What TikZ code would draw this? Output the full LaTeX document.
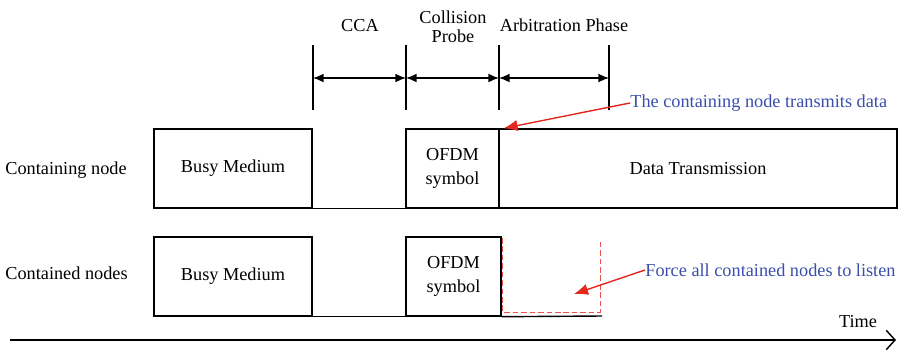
\documentclass[tikz,border=0pt]{standalone}
\usepackage{fontspec}
\setmainfont{Liberation Serif}
\usetikzlibrary{positioning}
\usetikzlibrary{arrows.meta}
\definecolor{notered}{RGB}{228,40,32}
\definecolor{noteblue}{RGB}{58,78,172}
\tikzset{
    slotbox/.style = {rectangle, draw=black, line width=0.8pt, minimum height=1.58cm, inner sep=0pt, align=center},
    labeln/.style = {text=black, inner sep=0pt},
    labelb/.style = {text=noteblue, inner sep=0pt},
    edgen/.style = {-, line width=0.8pt, black},
    edgea/.style = {{Latex[length=6pt,width=5pt]}-{Latex[length=6pt,width=5pt]}, line width=0.8pt, black},
    edger/.style = {-{Latex[length=8pt,width=6.5pt]}, line width=0.8pt, notered},
    edgerd/.style = {-, line width=0.55pt, notered!80, dash pattern=on 3.2pt off 1.6pt}, % listen window
    edget/.style = {-{Straight Barb[length=5pt,width=11pt]}, line width=0.8pt, black}, % time axis
    every picture/.style={font issue=\fontsize{10.4}{12.5}},
    font issue/.style={execute at begin picture={#1\selectfont}}
}

\begin{document}
\begin{tikzpicture}[x=0.02cm,y=-0.02cm]
  \useasboundingbox (0,0) rectangle (900,349);

  % row labels
  \node[labeln, anchor=west] (rowa) at (5,170) {Containing node};
  \node[labeln, anchor=west] (rowb) at (5,273) {Contained nodes};

  % containing node
  \node[slotbox, minimum width=3.16cm] (busya) at (233,168.5) {Busy Medium};
  \node[slotbox, minimum width=1.86cm] (ofdma) at (452.5,168.5) {OFDM\\[1.5pt]symbol};
  \node[slotbox, minimum width=7.96cm] (data) at (698,168.5) {Data Transmission};
  \draw[edgen] (busya.south east) -- (ofdma.south west);

  % contained nodes
  \node[slotbox, minimum width=3.16cm] (busyb) at (233,276.5) {Busy Medium};
  \node[slotbox, minimum width=1.9cm] (ofdmb) at (453.5,276.5) {OFDM\\[1.5pt]symbol};
  \coordinate (endb) at (602,316);
  \draw[edgen] (busyb.south east) -- (ofdmb.south west);
  \draw[edgen] (ofdmb.south east) -- (endb);
  \draw[edgerd] (502.5,238) -- (502.5,312) -- (600,312) -- (600,242);

  % phases
  \foreach \x [count=\i] in {313,406,499,609} {
    \coordinate (mt\i) at (\x,45);
    \coordinate (mb\i) at (\x,110);
    \coordinate (ma\i) at (\x,78);
    \draw[edgen] (mt\i) -- (mb\i);
  }
  \draw[edgea] (ma1) -- (ma2);
  \draw[edgea] (ma2) -- (ma3);
  \draw[edgea] (ma3) -- (ma4);
  \node[labeln] (cca) at (360,26) {CCA};
  \node[labeln, align=center, font=\fontsize{10.4}{11}\selectfont] (probe) at (453,27) {Collision\\Probe};
  \node[labeln] (arbit) at (564,25) {Arbitration Phase};

  % notes
  \node[labelb, anchor=west] (notea) at (630,103) {The containing node transmits data};
  \draw[edger] (notea.west) -- ([xshift=3pt]data.north west);
  \node[labelb, anchor=west] (noteb) at (645,270) {Force all contained nodes to listen};
  \coordinate (listen) at (574,294);
  \draw[edger] (noteb.west) -- (listen);

  % time axis
  \coordinate (ta) at (10,340);
  \coordinate (tb) at (896,340);
  \draw[edget] (ta) -- (tb);
  \node[labeln] (time) at (858,322) {Time};
\end{tikzpicture}
\end{document}
